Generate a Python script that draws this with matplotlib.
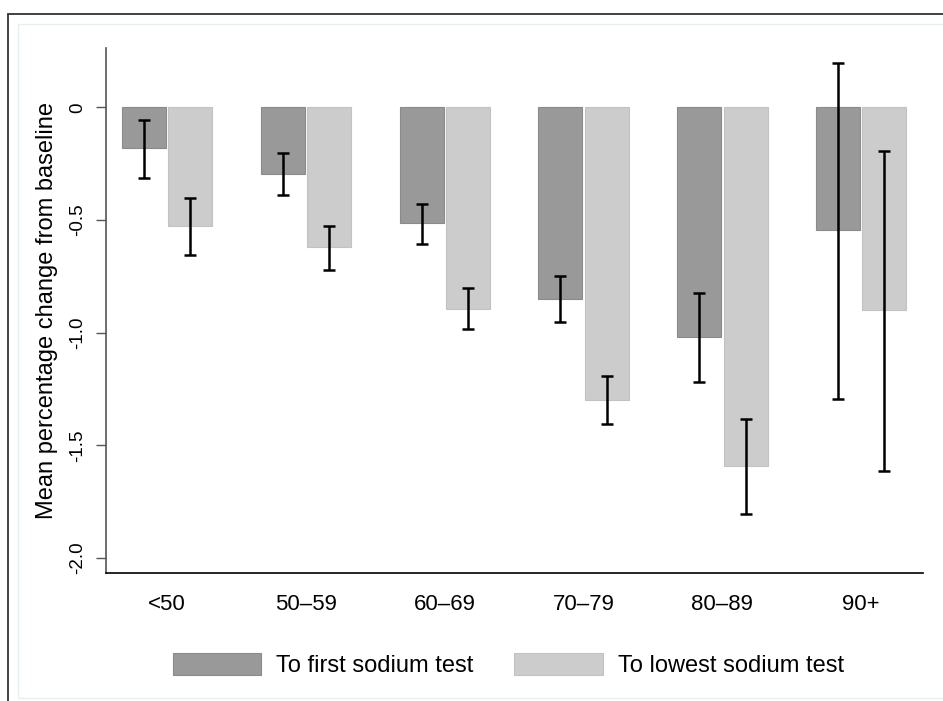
# Mean percentage change in sodium by age group, Stata-style grey bar chart
import numpy as np
import matplotlib.pyplot as plt
from matplotlib.patches import Rectangle, Patch

plt.rcParams['font.family'] = ['Liberation Sans', 'DejaVu Sans']

age_groups = ["<50", "50\u201359", "60\u201369", "70\u201379", "80\u201389", "90+"]
series_names = ["To first sodium test", "To lowest sodium test"]

# means and 95% CI bounds
first_mean = [-0.18, -0.295, -0.515, -0.85, -1.02, -0.545]
first_lo = [-0.313, -0.387, -0.605, -0.953, -1.218, -1.293]
first_hi = [-0.056, -0.202, -0.429, -0.749, -0.824, 0.196]
lowest_mean = [-0.527, -0.62, -0.893, -1.30, -1.593, -0.90]
lowest_lo = [-0.655, -0.721, -0.983, -1.407, -1.807, -1.616]
lowest_hi = [-0.40, -0.528, -0.802, -1.193, -1.384, -0.195]

y_ticks = [0, -0.5, -1.0, -1.5, -2.0]
y_ticklabels = ["0", "-0.5", "-1.0", "-1.5", "-2.0"]

dark = "#999999"
light = "#cccccc"


def main():
    fig = plt.figure(figsize=(9.43, 7.01), dpi=100)
    ax = fig.add_axes([0.1124, 0.1826, 0.8664, 0.7489])

    x = np.arange(len(age_groups))
    w = 0.317
    off = 0.167

    for means, lo, hi, col, edge, sign in [
        (first_mean, first_lo, first_hi, dark, "#8a8a8a", -1),
        (lowest_mean, lowest_lo, lowest_hi, light, "#c2c2c2", 1),
    ]:
        means = np.array(means)
        yerr = np.vstack([means - np.array(lo), np.array(hi) - means])
        xs = x + sign * off
        ax.bar(xs, means, width=w, color=col, edgecolor=edge, linewidth=0.8, zorder=2)
        ax.errorbar(xs, means, yerr=yerr, fmt="none", ecolor="black",
                    elinewidth=1.8, capsize=4.5, capthick=1.8, zorder=3)

    ax.set_xlim(-0.441, 5.445)
    ax.set_ylim(-2.067, 0.264)

    ax.set_xticks(x)
    ax.set_xticklabels(age_groups, fontsize=16)
    ax.tick_params(axis="x", length=0, pad=15)

    ax.set_yticks(y_ticks)
    ax.set_yticklabels(y_ticklabels, fontsize=13.5)
    ax.tick_params(axis="y", length=7, width=1, color="#555555", pad=7)
    for lab in ax.get_yticklabels():
        lab.set_rotation(90)
        lab.set_va("center")
        lab.set_ha("right")

    for s in ["top", "right"]:
        ax.spines[s].set_visible(False)
    ax.spines["left"].set_color("#555555")
    ax.spines["left"].set_linewidth(1.2)
    ax.spines["bottom"].set_color("black")
    ax.spines["bottom"].set_linewidth(1.2)

    fig.text(47 / 943, 0.557, "Mean percentage change from baseline",
             rotation=90, ha="center", va="center", fontsize=17)

    handles = [Patch(facecolor=dark, edgecolor="#8a8a8a", linewidth=0.8),
               Patch(facecolor=light, edgecolor="#c2c2c2", linewidth=0.8)]
    fig.legend(handles, series_names, loc="center", bbox_to_anchor=(0.539, 0.0514),
               ncol=2, frameon=False, fontsize=17, handlelength=3.73,
               handleheight=1.02, handletextpad=0.64, columnspacing=1.74,
               borderpad=0)

    # outer frame (only left and top edges fall inside the picture)
    fig.patches.append(Rectangle((8 / 943, -0.2), 1.5, 1.2 - 14 / 701,
                                 transform=fig.transFigure, fill=False,
                                 edgecolor="#333333", linewidth=1.3))
    fig.patches.append(Rectangle((18 / 943, 3 / 701), 1.5, 1 - 27 / 701,
                                 transform=fig.transFigure, fill=False,
                                 edgecolor="#e6eeee", linewidth=1.0))

    fig.savefig("out.png", dpi=100)


if __name__ == "__main__":
    main()
